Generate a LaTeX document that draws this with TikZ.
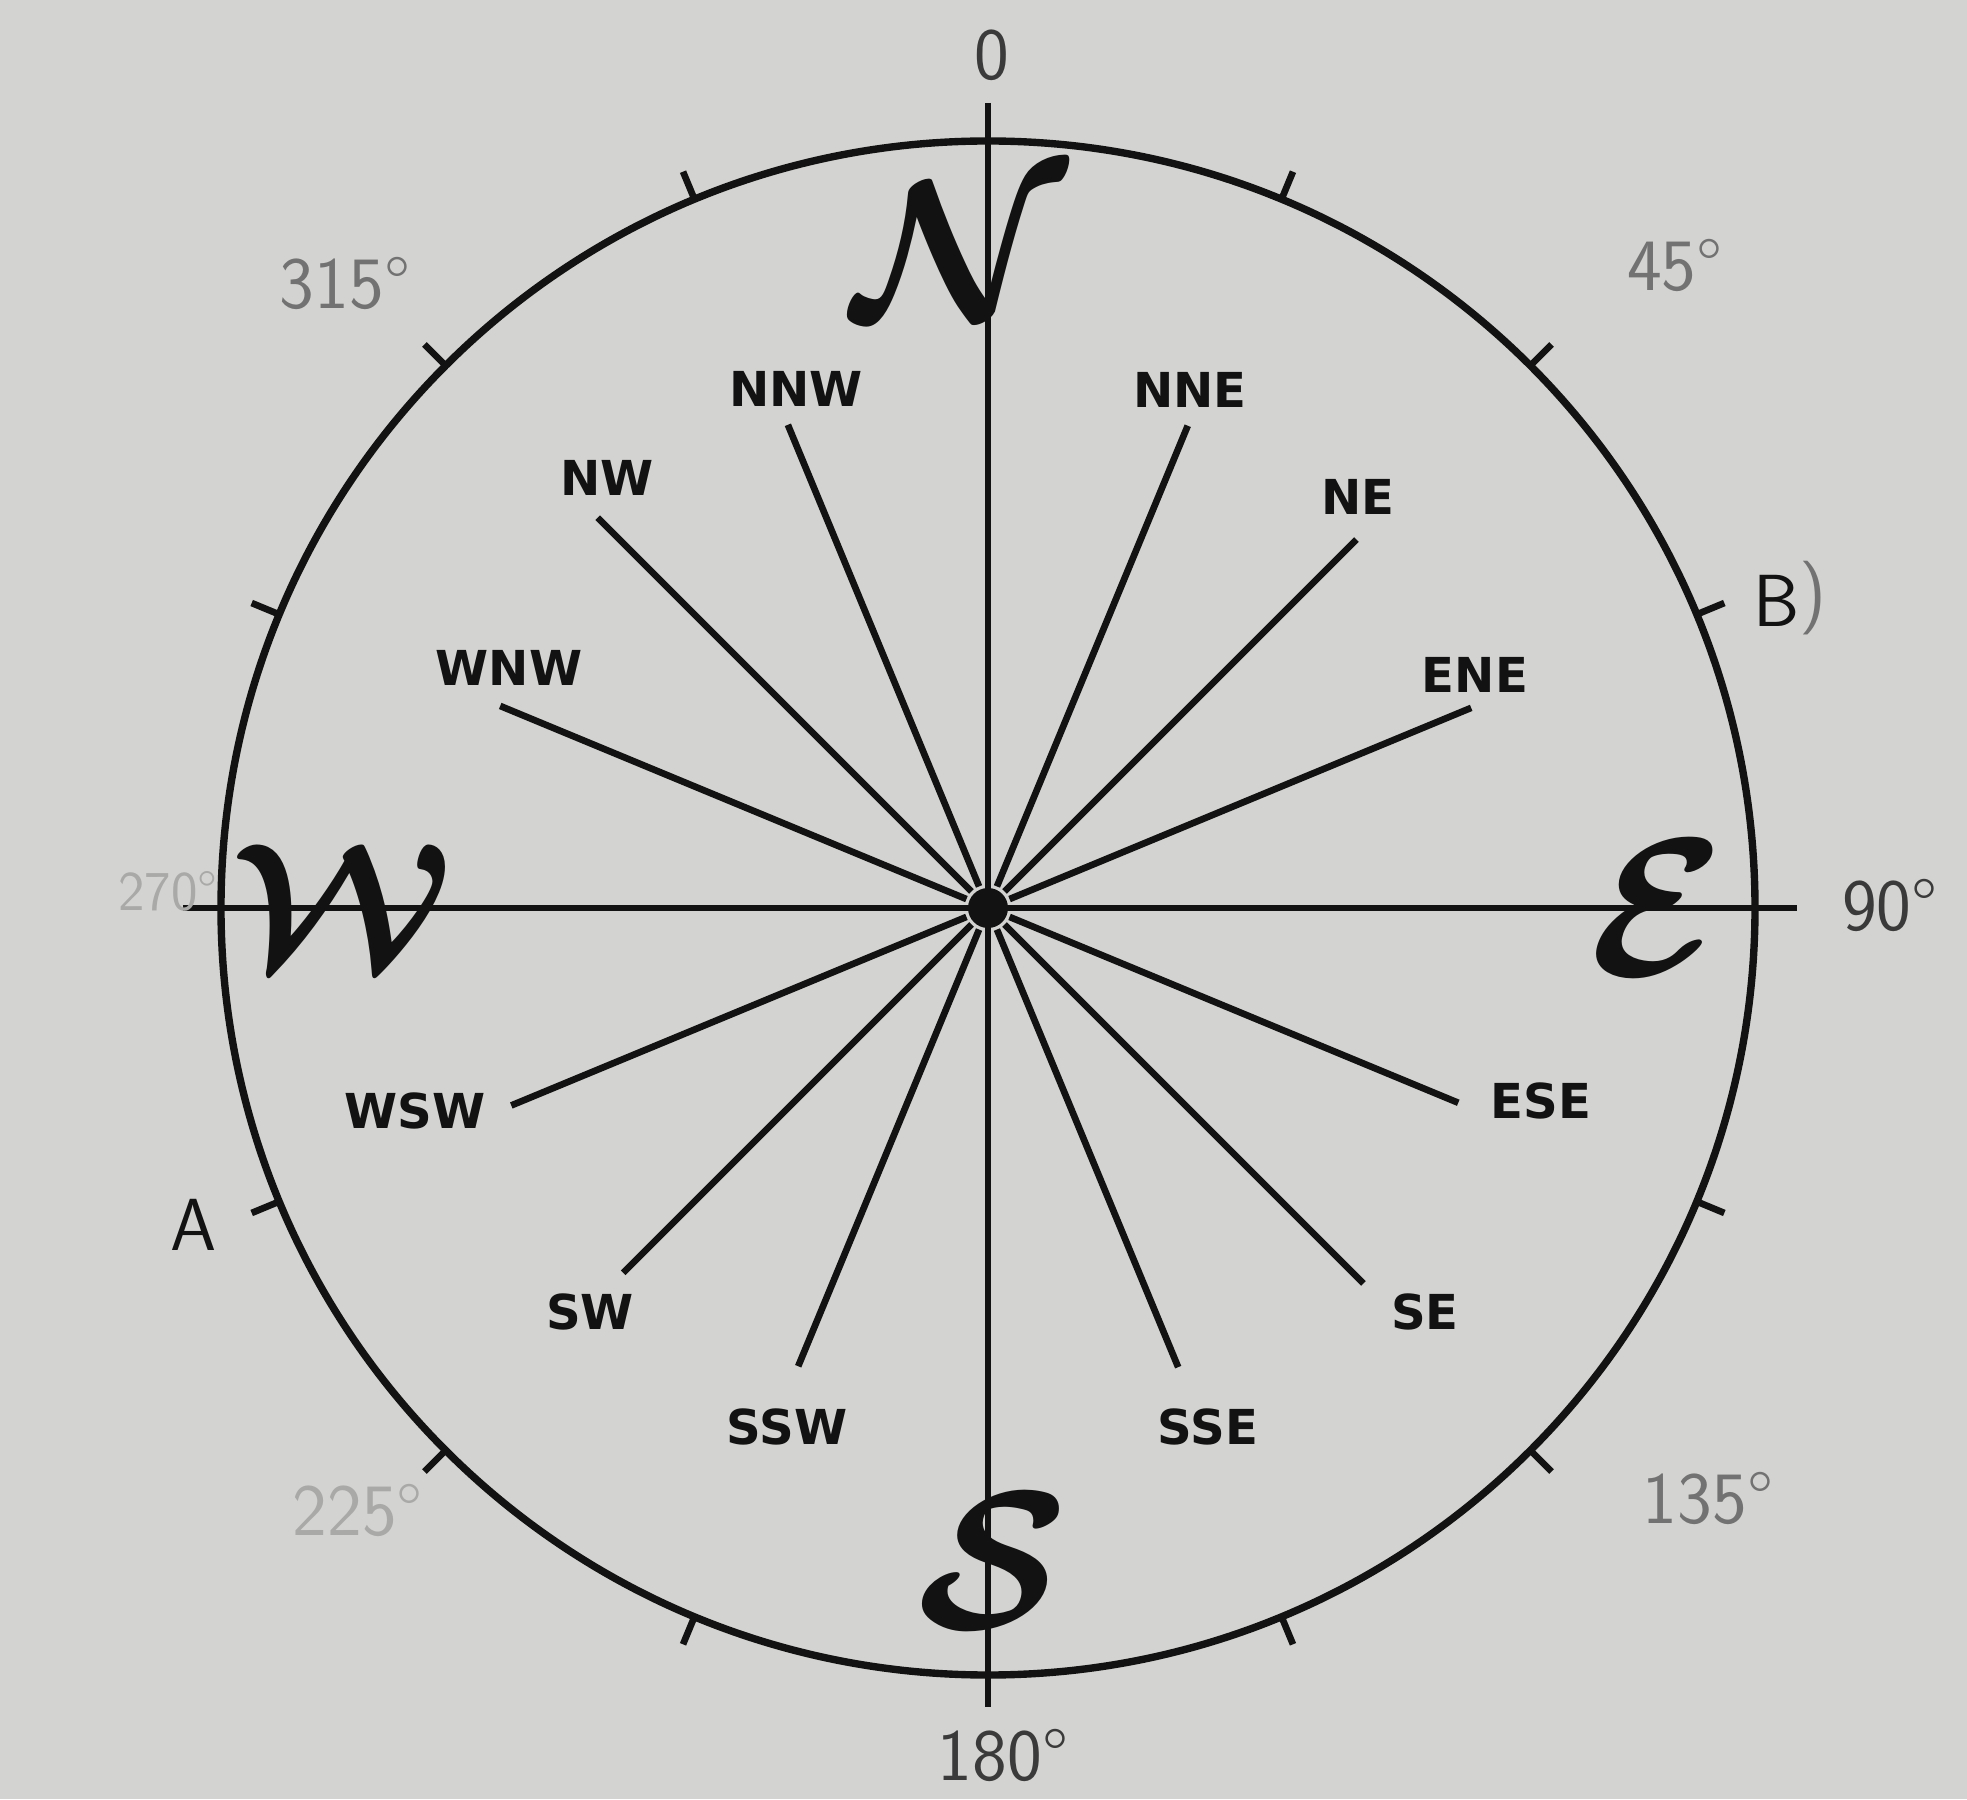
\documentclass[tikz,border=0pt]{standalone}
\usepackage{fontspec}
\usepackage{amsmath}
\usetikzlibrary{positioning}
\newfontfamily\dirfont{DejaVu Sans}
\definecolor{paper}{HTML}{D3D3D1}
\definecolor{ink}{HTML}{121212}
\definecolor{pencil}{HTML}{3A3A3A}
\definecolor{lead}{HTML}{727272}
\definecolor{faint}{HTML}{A9A9A7}

\begin{document}
\begin{tikzpicture}[
  line width=1.9pt, draw=ink,
  every node/.style={text=ink},
  dir/.style={font=\dirfont\bfseries\fontsize{13.7}{14}\selectfont, inner sep=1pt},
  card/.style={scale=5.6, font=\boldmath, inner sep=0pt},
  deg/.style={font=\sffamily\fontsize{21}{21}\selectfont\addfontfeatures{LetterSpace=12}, inner sep=0pt},
  letter/.style={font=\sffamily\fontsize{21}{21}\selectfont, inner sep=0pt}
]
  \fill[paper] (-9.88,-8.91) rectangle (9.79,9.08);
  \useasboundingbox (-9.88,-8.91) rectangle (9.79,9.08);

  % rim and bearing ticks
  \draw[line width=2.1pt] (0,0) circle (7.67);
  \foreach \a in {22.5,45,67.5,112.5,135,157.5,202.5,225,247.5,292.5,315,337.5}
    \draw (\a:7.67) -- (\a:7.97);

  % main axes
  \coordinate (top) at (0,8.05);
  \coordinate (bot) at (0,-7.99);
  \coordinate (west) at (-8.05,0);
  \coordinate (east) at (8.09,0);
  \draw (top) -- (bot);
  \draw (west) -- (east);

  % spokes
  \node[circle, fill=ink, minimum size=4mm, inner sep=0pt] (O) at (0,0) {};
  \foreach \n/\a/\l in {NNE/67.5/5.22, NE/45/5.21, ENE/22.5/5.23, ESE/-22.5/5.09,
      SE/-45/5.31, SSE/-67.5/4.97, SSW/-112.5/4.96, SW/-135/5.16,
      WSW/-157.5/5.16, WNW/157.5/5.28, NW/135/5.52, NNW/112.5/5.23}
  {
    \coordinate (\n) at (\a:\l);
    \draw (O) -- (\n);
  }

  \node[dir] (lNNW) at (-1.92,5.19) {NNW};
  \node[dir] (lNNE) at (2.02,5.18) {NNE};
  \node[dir] (lNW) at (-3.81,4.30) {NW};
  \node[dir] (lNE) at (3.70,4.11) {NE};
  \node[dir] (lWNW) at (-4.79,2.40) {WNW};
  \node[dir] (lENE) at (4.87,2.33) {ENE};
  \node[dir] (lWSW) at (-5.73,-2.03) {WSW};
  \node[dir] (lESE) at (5.53,-1.93) {ESE};
  \node[dir] (lSW) at (-3.98,-4.04) {SW};
  \node[dir] (lSE) at (4.37,-4.04) {SE};
  \node[dir] (lSSW) at (-2.01,-5.19) {SSW};
  \node[dir] (lSSE) at (2.20,-5.19) {SSE};

  % cardinal letters
  \node[card] (N) at (-0.28,6.58) {$\mathcal{N}$};
  \node[card, scale=0.9] (W) at (-6.46,0.02) {$\mathcal{W}$};
  \node[card] (E) at (6.69,0) {$\mathcal{E}$};
  \node[card] (S) at (0.05,-6.53) {$\mathcal{S}$};

  % pencilled bearings
  \node[deg, text=pencil] (d0) at (0.04,8.53) {0};
  \node[deg, text=lead] (d45) at (6.87,6.43) {45°};
  \node[deg, text=pencil] (d90) at (9.02,0.03) {90°};
  \node[deg, text=lead] (d135) at (7.20,-5.90) {135°};
  \node[deg, text=pencil] (d180) at (0.15,-8.47) {180°};
  \node[deg, text=faint] (d225) at (-6.30,-6.02) {225°};
  \node[deg, text=faint, font=\sffamily\fontsize{16}{16}\selectfont] (d270) at (-8.20,0.17) {270°};
  \node[deg, text=lead] (d315) at (-6.43,6.25) {315°};
  \node[letter] (A) at (-7.94,-3.17) {A};
  \node[letter, anchor=west] (B) at (7.62,3.10) {B\textcolor{lead}{\raisebox{3pt}{)}}};
\end{tikzpicture}
\end{document}
